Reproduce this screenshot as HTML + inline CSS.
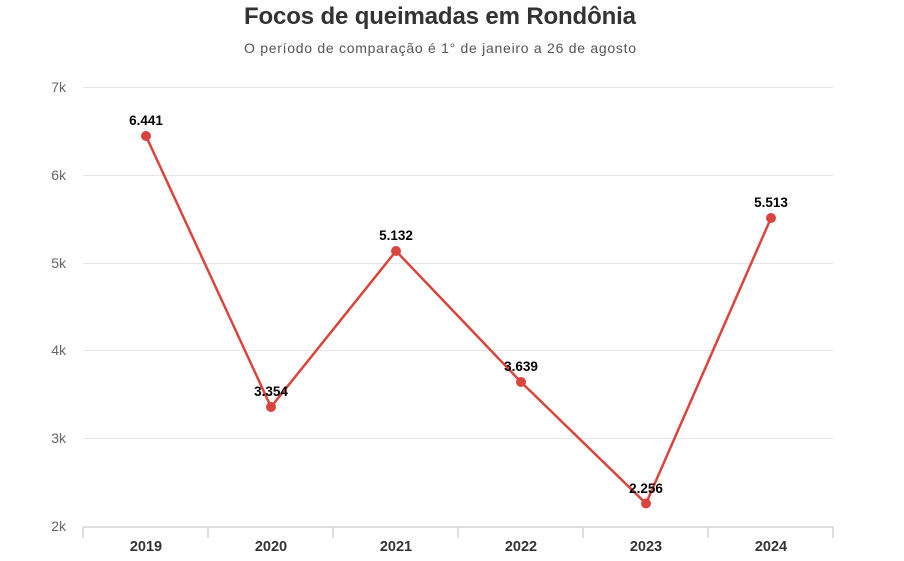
<!DOCTYPE html>
<html><head><meta charset="utf-8"><style>
body{margin:0;background:#fff;width:904px;height:556px;overflow:hidden;font-family:"Liberation Sans",sans-serif}
</style></head><body>
<svg width="904" height="556" xmlns="http://www.w3.org/2000/svg" font-family="Liberation Sans, sans-serif">
<text x="440" y="24" text-anchor="middle" font-size="24" font-weight="bold" fill="#333" textLength="392">Focos de queimadas em Rondônia</text>
<text x="440" y="53" text-anchor="middle" font-size="14" fill="#555" textLength="392">O período de comparação é 1° de janeiro a 26 de agosto</text>
<g stroke="#e6e6e6" stroke-width="1">
<line x1="83" x2="833" y1="87.5" y2="87.5"/><line x1="83" x2="833" y1="175.5" y2="175.5"/>
<line x1="83" x2="833" y1="263.5" y2="263.5"/><line x1="83" x2="833" y1="350.5" y2="350.5"/>
<line x1="83" x2="833" y1="438.5" y2="438.5"/>
</g>
<g stroke="#d4d4d4" stroke-width="1.5">
<line x1="83" x2="833" y1="527" y2="527"/>
<line x1="83" x2="83" y1="527" y2="538"/><line x1="208" x2="208" y1="527" y2="538"/>
<line x1="333" x2="333" y1="527" y2="538"/><line x1="458" x2="458" y1="527" y2="538"/>
<line x1="583" x2="583" y1="527" y2="538"/><line x1="708" x2="708" y1="527" y2="538"/>
<line x1="833" x2="833" y1="527" y2="538"/>
</g>
<g font-size="14" fill="#666" text-anchor="end">
<text x="66" y="92">7k</text><text x="66" y="180">6k</text><text x="66" y="268">5k</text>
<text x="66" y="355">4k</text><text x="66" y="443">3k</text><text x="66" y="531">2k</text>
</g>
<g font-size="14.5" font-weight="bold" fill="#333" text-anchor="middle">
<text x="146" y="551">2019</text><text x="271" y="551">2020</text><text x="396" y="551">2021</text>
<text x="521" y="551">2022</text><text x="646" y="551">2023</text><text x="771" y="551">2024</text>
</g>
<polyline fill="none" stroke="#d9453d" stroke-width="2.5" points="146,136 271,407 396,251 521,382 646,503.5 771,218"/>
<g fill="#d9453d">
<circle cx="146" cy="136" r="5"/><circle cx="271" cy="407" r="5"/><circle cx="396" cy="251" r="5"/>
<circle cx="521" cy="382" r="5"/><circle cx="646" cy="503.5" r="5"/><circle cx="771" cy="218" r="5"/>
</g>
<g font-size="13.5" font-weight="bold" fill="#000" text-anchor="middle">
<text x="146" y="125">6.441</text><text x="271" y="396">3.354</text><text x="396" y="240">5.132</text>
<text x="521" y="371">3.639</text><text x="646" y="493">2.256</text><text x="771" y="207">5.513</text>
</g>
</svg>
</body></html>
